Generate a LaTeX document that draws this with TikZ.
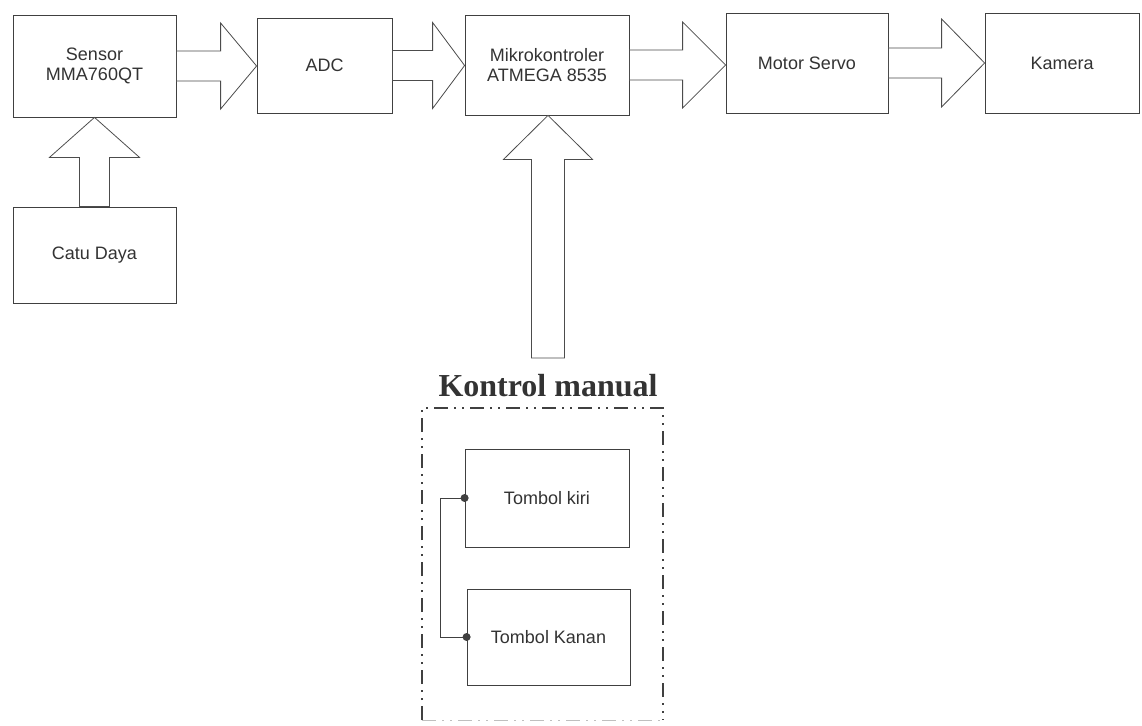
\documentclass[tikz,border=0pt]{standalone}
\usepackage{fontspec}
\setmainfont{Liberation Sans}
\newfontfamily\serifbold{Liberation Serif}
\usetikzlibrary{calc}
\newcommand{\lab}{\fontsize{18}{20.5}\selectfont}
% horizontal block arrow: from anchor, to anchor, head length, shaft half, head half
\newcommand{\arrR}[5]{%
  \draw[blk] let \p1=(#1), \p2=(#2) in
    (\x1,\y1+#4) -- (\x2-#3,\y1+#4) -- (\x2-#3,\y1+#5) -- (\x2,\y1)
    -- (\x2-#3,\y1-#5) -- (\x2-#3,\y1-#4) -- (\x1,\y1-#4) -- cycle;}
% upward block arrow
\newcommand{\arrU}[5]{%
  \draw[blk] let \p1=(#1), \p2=(#2) in
    (\x1-#4,\y1) -- (\x1-#4,\y2-#3) -- (\x1-#5,\y2-#3) -- (\x1,\y2)
    -- (\x1+#5,\y2-#3) -- (\x1+#4,\y2-#3) -- (\x1+#4,\y1) -- cycle;}
\begin{document}
\begin{tikzpicture}[x=1pt,y=-1pt,
  box/.style={draw=black!75, line width=0.8pt, inner sep=0pt, align=center,
    font=\lab, text=black!80},
  blk/.style={draw=black!70, line width=0.8pt, fill=white},
  wire/.style={draw=black!75, line width=0.8pt},
  frame/.style={draw=black!75, line width=1.6pt,
    dash pattern=on 14pt off 6pt on 2pt off 6pt on 2pt off 6pt}]
\useasboundingbox (0,0) rectangle (1142,725);
\fill[white] (0,0) rectangle (1142,725);

\node[box, minimum width=163pt, minimum height=102pt] (sensor) at (94.5,66) {Sensor\\MMA760QT};
\node[box, minimum width=135pt, minimum height=95pt] (adc) at (324.5,65.5) {ADC};
\node[box, minimum width=164pt, minimum height=100pt] (mikro) at (547,65) {Mikrokontroler\\ATMEGA 8535};
\node[box, minimum width=162pt, minimum height=100pt] (motor) at (807,63) {Motor Servo};
\node[box, minimum width=154pt, minimum height=100pt] (kamera) at (1062,63) {Kamera};
\node[box, minimum width=163pt, minimum height=96pt] (catu) at (94.5,255) {Catu Daya};

\arrR{sensor.east}{adc.west}{36pt}{15pt}{43pt}
\arrR{adc.east}{mikro.west}{32pt}{15pt}{43pt}
\arrR{mikro.east}{motor.west}{43pt}{15pt}{43pt}
\arrR{motor.east}{kamera.west}{43pt}{15pt}{44pt}
\arrU{catu.north}{sensor.south}{40pt}{15pt}{45pt}

\node[font=\serifbold\bfseries\fontsize{32}{35}\selectfont, text=black!80, inner sep=0pt]
  (kontrol) at (548,386) {Kontrol manual};
\coordinate (kb) at (548,358);
\arrU{kb}{mikro.south}{44pt}{16.5pt}{44.5pt}

\draw[frame] (422,720) -- (422,408) -- (663,408) -- (663,720);
\draw[frame, draw=black!25, line width=0.8pt] (422,720) -- (663,720);

\node[box, minimum width=164pt, minimum height=98pt] (kiri) at (547,498) {Tombol kiri};
\node[box, minimum width=163pt, minimum height=96pt] (kanan) at (548.5,637) {Tombol Kanan};
\draw[wire] (kiri.west) -- ++(-24,0) |- (kanan.west);
\fill[black!75] (kiri.west) circle (4pt) (kanan.west) circle (4pt);
\end{tikzpicture}
\end{document}
